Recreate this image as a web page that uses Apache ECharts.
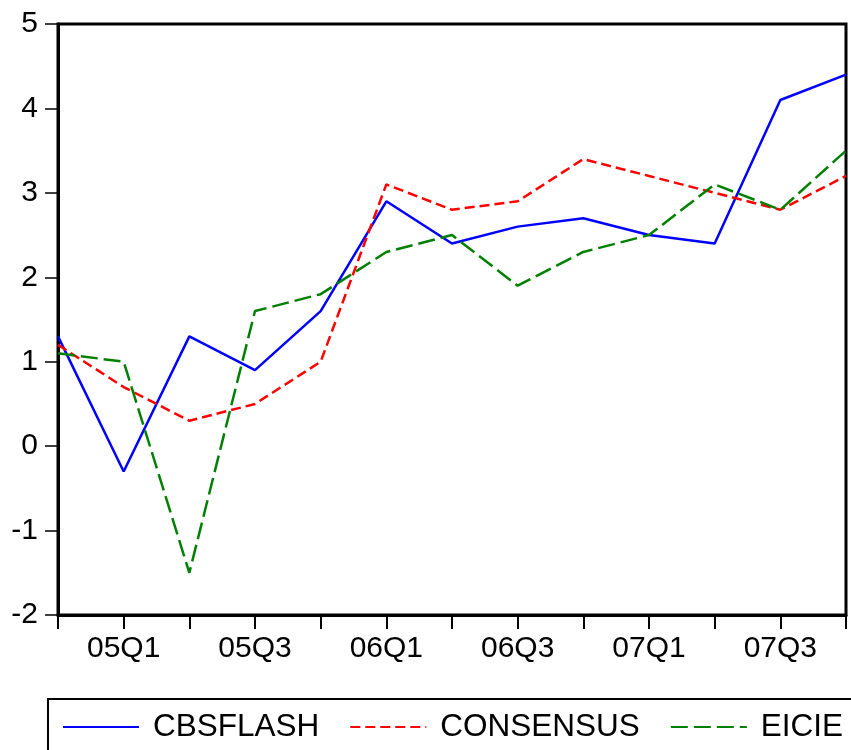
<!DOCTYPE html>
<html>
<head>
<meta charset="utf-8">
<style>
  html, body { margin: 0; padding: 0; background: #fff; }
  #chart { width: 851px; height: 750px; }
</style>
<script src="https://cdn.jsdelivr.net/npm/echarts@6/dist/echarts.min.js"></script>
</head>
<body>
<div id="chart"></div>
<script>
// Quarterly categories, 2004Q4 .. 2007Q4
const quarters = ['04Q4', '05Q1', '05Q2', '05Q3', '05Q4', '06Q1', '06Q2', '06Q3', '06Q4', '07Q1', '07Q2', '07Q3', '07Q4'];

// Series values
const cbsflash  = [1.3, -0.3, 1.3, 0.9, 1.6, 2.9, 2.4, 2.6, 2.7, 2.5, 2.4, 4.1, 4.4];
const consensus = [1.2, 0.7, 0.3, 0.5, 1.0, 3.1, 2.8, 2.9, 3.4, 3.2, 3.0, 2.8, 3.2];
const eicie     = [1.1, 1.0, -1.5, 1.6, 1.8, 2.3, 2.5, 1.9, 2.3, 2.5, 3.1, 2.8, 3.5];

// Y-axis range and step
const yMin = -2, yMax = 5, yStep = 1;

const FONT = '"Liberation Sans", Arial, sans-serif';

const chart = echarts.init(document.getElementById('chart'), null, { renderer: 'canvas' });

chart.setOption({
  animation: false,
  backgroundColor: '#ffffff',
  textStyle: { fontFamily: FONT, color: '#000' },
  grid: {
    left: 58, right: 5, top: 24, bottom: 135,
    show: true, borderColor: '#000', borderWidth: 3, backgroundColor: 'transparent'
  },
  xAxis: {
    type: 'category',
    data: quarters,
    boundaryGap: false,
    axisLine: { show: true, onZero: false, lineStyle: { color: '#000', width: 3 } },
    axisTick: { show: true, interval: 0, length: 14, lineStyle: { color: '#000', width: 2 } },
    axisLabel: {
      interval: (i) => i % 2 === 1,
      margin: 19,
      fontSize: 30,
      fontFamily: FONT,
      color: '#000'
    },
    splitLine: { show: false }
  },
  yAxis: {
    type: 'value',
    min: yMin, max: yMax, interval: yStep,
    axisLine: { show: true, lineStyle: { color: '#000', width: 3 } },
    axisTick: { show: true, length: 13, lineStyle: { color: '#000', width: 1.5 } },
    axisLabel: { margin: 20, fontSize: 30, fontFamily: FONT, color: '#000' },
    splitLine: { show: false }
  },
  legend: {
    left: 62, top: 711,
    padding: 0,
    itemWidth: 76, itemHeight: 32, itemGap: 30,
    itemStyle: { opacity: 0 },
    textStyle: { fontSize: 31.5, fontFamily: FONT, color: '#000', padding: [0, 0, 0, 9], lineHeight: 32 },
    data: ['CBSFLASH', 'CONSENSUS', 'EICIE']
  },
  graphic: [{
    type: 'rect',
    shape: { x: 48, y: 699, width: 900, height: 100 },
    style: { fill: 'none', stroke: '#000', lineWidth: 2 },
    silent: true
  }],
  series: [
    {
      name: 'CBSFLASH', type: 'line', data: cbsflash,
      symbol: 'none', color: '#0000ff',
      lineStyle: { color: '#0000ff', width: 2.5 }
    },
    {
      name: 'CONSENSUS', type: 'line', data: consensus,
      symbol: 'none', color: '#ff0000',
      lineStyle: { color: '#ff0000', width: 2.5, type: [10, 5] }
    },
    {
      name: 'EICIE', type: 'line', data: eicie,
      symbol: 'none', color: '#008000',
      lineStyle: { color: '#008000', width: 2.5, type: [17, 6] }
    }
  ]
});
</script>
</body>
</html>
